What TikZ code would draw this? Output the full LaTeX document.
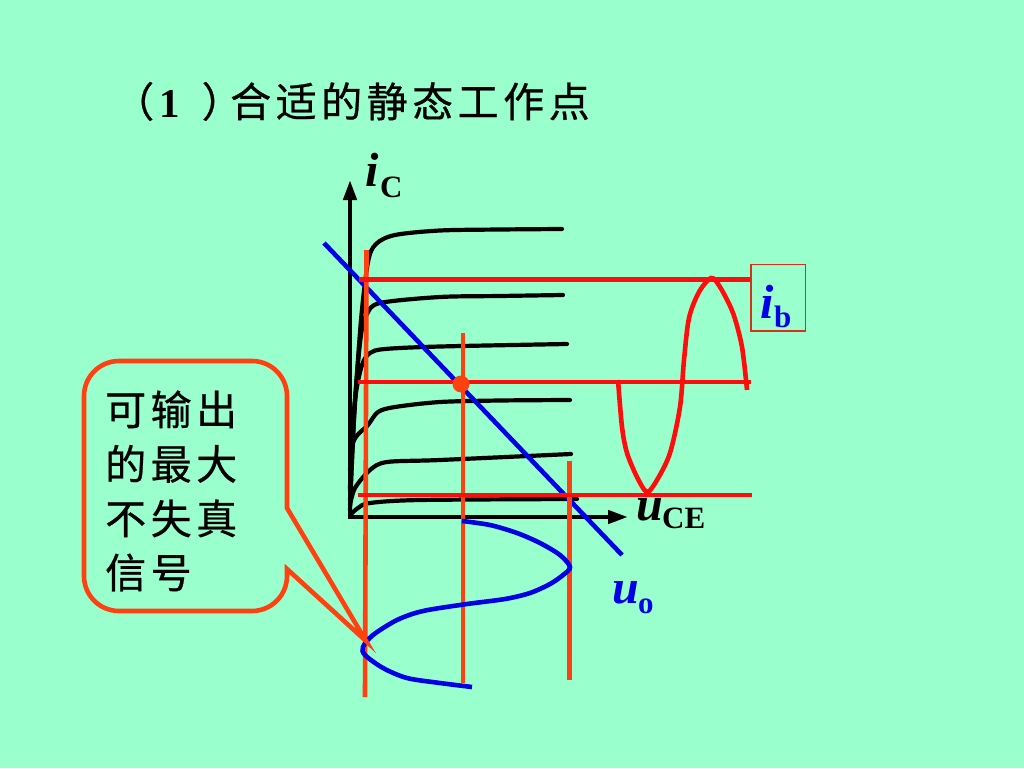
\documentclass[tikz,border=0pt]{standalone}
\usepackage{fontspec}
\usetikzlibrary{arrows.meta}
\setmainfont{Liberation Serif}
\newfontfamily\cjk[LetterSpace=11,FakeBold=0.6]{Noto Sans CJK SC}
\definecolor{bgc}{HTML}{99FFCC}
\definecolor{redl}{HTML}{FF0D0D}
\definecolor{orl}{HTML}{FF4010}
\definecolor{bluel}{HTML}{0000E6}
\definecolor{boxedge}{HTML}{D8301C}
\tikzset{
 curveb/.style={draw=black,line width=4.2pt,line cap=round},
 hline/.style={draw=redl,line width=4.6pt},
 vline/.style={draw=orl,line width=4.6pt},
 blueline/.style={draw=bluel,line width=4.6pt},
 axisl/.style={draw=black,line width=4.4pt,-{Triangle[length=20pt,width=13pt]}},
 lab/.style={font=\bfseries\itshape\fontsize{48}{48}\selectfont,inner sep=0pt,anchor=base west},
 cjkt/.style={font=\cjk\fontsize{41}{41}\selectfont,inner sep=0pt,anchor=base west},
 subs/.style={font=\bfseries\fontsize{31}{31}\selectfont,inner sep=0pt,anchor=base west}
}
\begin{document}
\begin{tikzpicture}[x=1pt,y=-1pt]
\useasboundingbox (0,0) rectangle (1024,768);
\fill[bgc] (0,0) rectangle (1024,768);
% title
\node[cjkt] (titlea) at (113,117) {（\hspace{5pt}{\rmfamily\bfseries 1}\hspace{22pt}）};
\node[cjkt] (titleb) at (230,117) {合适的静态工作点};
% axis labels
\node[lab] (ic) at (365,186) {i};
\node[subs] (icsub) at (380,197) {C};
\node[lab] (uce) at (636,520) {u};
\node[subs] (ucesub) at (662,528) {CE};
\node[lab,text=bluel] (uo) at (612,603) {u};
\node[subs,text=bluel] (uosub) at (638,613) {o};
% characteristic curves
\coordinate (O) at (350,516);
\draw[curveb] plot[smooth] coordinates {(350,510) (354,420) (361,320) (368,262) (376,244) (395,235) (440,230.5) (500,229.5) (562,229)};
\draw[curveb] plot[smooth] coordinates {(350,500) (355,400) (361,335) (367,314) (380,303) (440,297) (500,296) (563,295)};
\draw[curveb] plot[smooth] coordinates {(350,470) (355,400) (362,365) (370,353) (385,349) (440,346.5) (567,344)};
\draw[curveb] plot[smooth] coordinates {(350,490) (353,443) (368,425) (378,412) (395,407) (440,402) (500,400.5) (570,400)};
\draw[curveb] plot[smooth] coordinates {(350,505) (355,488) (370,470) (387,462) (440,460) (571,454)};
\draw[curveb] plot[smooth] coordinates {(350,515) (358,508) (370,503) (420,500) (577,499)};
% axes
\coordinate (ytip) at (350,180);
\coordinate (xtip) at (628,517);
\coordinate (O2) at (348,517);
\draw[axisl] (O) -- (ytip);
\draw[axisl] (O2) -- (xtip);
% load line
\coordinate (la) at (324,243);
\coordinate (lb) at (622,555);
\draw[blueline] (la) -- (lb);
% horizontal lines
\coordinate (h1a) at (359,279.5); \coordinate (h1b) at (752,279.5);
\coordinate (h2a) at (358,382); \coordinate (h2b) at (751,382);
\coordinate (h3a) at (358,495); \coordinate (h3b) at (752,495);
% vertical lines
\coordinate (v1a) at (366.5,250); \coordinate (v1b) at (365,697);
\coordinate (v2a) at (463,333); \coordinate (v2b) at (463,683);
\coordinate (v3a) at (569.5,461); \coordinate (v3b) at (569.5,680);
\draw[vline] (v1a) -- (v1b);
\draw[vline] (v2a) -- (v2b);
\draw[vline] (v3a) -- (v3b);
\draw[hline] (h1a) -- (h1b);
\draw[hline] (h2a) -- (h2b);
\draw[hline] (h3a) -- (h3b);
\fill[orl] (461,384) circle (8.5);
% output waveform
\draw[blueline] plot[smooth] coordinates {(462,521) (490,525) (517,533) (540,543) (560,555) (570,567) (563,575) (550,584) (530,593) (505,599) (467,604) (423,611) (397,620) (373,635) (363,647) (365,655) (383,668) (407,678) (440,683) (472,687)};
% input waveform
\draw[hline] plot[smooth] coordinates {(618,380) (622,427) (627,453) (637,477) (647,492) (657,480) (670,453) (680,407) (684,360) (689,318) (699,292) (711,278) (720,287) (733,313) (742,347) (747,390)};
% ib box
\node[fill=bgc,minimum width=54pt,minimum height=66pt,inner sep=0pt,anchor=north west] (ibbox) at (751,264.5) {};
\draw[boxedge,line width=1.3pt] (ibbox.north west) rectangle (ibbox.south east);
\node[lab,text=bluel] (ib) at (760,318) {i};
\node[subs,text=bluel] (ibsub) at (774,327) {b};
% callout
\coordinate (tip) at (366,641);
\draw[draw=orl,line width=4.6pt,line join=miter]
  (tip) -- (287,508) -- (287,396) arc[start angle=0,end angle=-90,radius=35] -- (119,361)
  arc[start angle=-90,end angle=-180,radius=35] -- (84,576)
  arc[start angle=180,end angle=90,radius=35] -- (252,611)
  arc[start angle=90,end angle=0,radius=35] -- (287,569) -- cycle;
\node[cjkt] (t1) at (105,425) {可输出};
\node[cjkt] (t2) at (105,479.5) {的最大};
\node[cjkt] (t3) at (105,534) {不失真};
\node[cjkt] (t4) at (105,588) {信号};
\end{tikzpicture}
\end{document}
